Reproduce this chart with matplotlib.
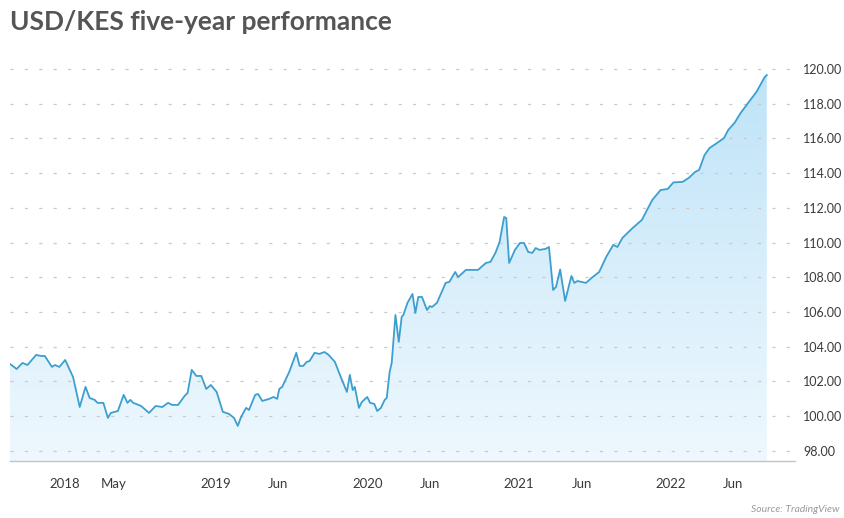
#!/usr/bin/env python3
"""USD/KES five-year performance - area chart with gradient fill"""

import numpy as np
import pandas as pd
import matplotlib
matplotlib.use('Agg')
import matplotlib.pyplot as plt
import matplotlib.dates as mdates
from matplotlib.colors import LinearSegmentedColormap

# Datos (fecha, USD/KES)
dates = [
    '2017-08-23', '2017-09-08', '2017-09-22', '2017-10-04', '2017-10-25', '2017-11-06',
    '2017-11-15', '2017-12-02', '2017-12-09', '2017-12-20',
    '2018-01-03', '2018-01-22', '2018-02-07', '2018-02-21', '2018-03-03', '2018-03-15',
    '2018-03-22', '2018-04-05', '2018-04-16', '2018-04-23', '2018-05-10', '2018-05-24',
    '2018-06-02', '2018-06-09', '2018-06-16', '2018-07-05', '2018-07-24', '2018-08-09',
    '2018-08-25', '2018-09-08', '2018-09-18', '2018-10-02', '2018-10-18', '2018-10-25',
    '2018-11-04', '2018-11-15', '2018-11-27', '2018-12-09', '2018-12-20',
    '2019-01-03', '2019-01-18', '2019-02-02', '2019-02-14', '2019-02-23', '2019-03-03',
    '2019-03-15', '2019-03-22', '2019-04-06', '2019-04-13', '2019-04-23', '2019-05-10',
    '2019-05-20', '2019-05-29', '2019-06-03', '2019-06-10', '2019-06-27', '2019-07-14',
    '2019-07-22', '2019-07-31', '2019-08-08', '2019-08-15', '2019-08-27', '2019-09-08',
    '2019-09-20', '2019-09-30', '2019-10-15', '2019-11-01', '2019-11-13', '2019-11-20',
    '2019-11-27', '2019-12-02', '2019-12-12', '2019-12-19',
    '2020-01-01', '2020-01-08', '2020-01-18', '2020-01-25', '2020-02-03', '2020-02-12',
    '2020-02-17', '2020-02-24', '2020-02-29', '2020-03-09', '2020-03-17', '2020-03-24',
    '2020-03-28', '2020-04-07', '2020-04-19', '2020-04-26', '2020-05-03', '2020-05-12',
    '2020-05-24', '2020-05-31', '2020-06-05', '2020-06-17', '2020-07-08', '2020-07-17',
    '2020-07-31', '2020-08-07', '2020-08-26', '2020-09-24', '2020-10-13', '2020-10-24',
    '2020-11-05', '2020-11-15', '2020-11-26', '2020-12-01', '2020-12-08', '2020-12-22',
    '2021-01-03', '2021-01-13', '2021-01-23', '2021-02-02', '2021-02-10', '2021-02-19',
    '2021-03-06', '2021-03-14', '2021-03-24', '2021-03-31', '2021-04-10', '2021-04-22',
    '2021-05-07', '2021-05-14', '2021-05-22', '2021-06-11', '2021-06-25', '2021-07-13',
    '2021-07-30', '2021-08-16', '2021-08-26', '2021-09-07', '2021-10-02', '2021-10-24',
    '2021-11-18', '2021-12-08', '2021-12-25',
    '2022-01-08', '2022-01-30', '2022-02-14', '2022-03-01', '2022-03-11', '2022-03-24',
    '2022-04-05', '2022-04-23', '2022-05-10', '2022-05-20', '2022-06-04', '2022-06-19',
    '2022-07-07', '2022-07-27', '2022-08-16', '2022-08-21',
]
rates = [
    103.01, 102.72, 103.07, 102.95, 103.53, 103.47,
    103.47, 102.84, 102.95, 102.84,
    103.24, 102.26, 100.53, 101.69, 101.05, 100.94,
    100.77, 100.77, 99.90, 100.19, 100.30, 101.23,
    100.77, 100.94, 100.77, 100.59, 100.19, 100.59,
    100.53, 100.77, 100.65, 100.65, 101.17, 101.34,
    102.67, 102.32, 102.32, 101.57, 101.80,
    101.40, 100.25, 100.13, 99.90, 99.44, 99.96,
    100.48, 100.36, 101.23, 101.28, 100.88, 101.00,
    101.11, 101.00, 101.57, 101.69, 102.55, 103.65,
    102.90, 102.90, 103.13, 103.18, 103.65, 103.59,
    103.70, 103.53, 103.13, 102.09, 101.40, 102.38,
    101.51, 101.69, 100.48, 100.82,
    101.11, 100.77, 100.71, 100.30, 100.48, 100.94,
    101.05, 102.55, 103.07, 105.83, 104.28, 105.72,
    105.83, 106.53, 107.04, 105.95, 106.87, 106.87,
    106.12, 106.35, 106.29, 106.53, 107.68, 107.74,
    108.31, 108.02, 108.43, 108.43, 108.83, 108.89,
    109.41, 110.04, 111.48, 111.42, 108.83, 109.58,
    109.98, 109.98, 109.46, 109.41, 109.69, 109.58,
    109.64, 109.75, 107.27, 107.45, 108.45, 106.64,
    108.08, 107.68, 107.79, 107.68, 107.97, 108.31,
    109.18, 109.87, 109.75, 110.27, 110.85, 111.31,
    112.46, 113.03, 113.09,
    113.47, 113.50, 113.73, 114.07, 114.19, 115.05,
    115.45, 115.74, 116.03, 116.49, 116.89, 117.47,
    118.05, 118.68, 119.54, 119.65,
]

tick_dates = ['2018-01-01', '2018-05-01', '2019-01-01', '2019-06-01', '2020-01-01',
              '2020-06-01', '2021-01-01', '2021-06-01', '2022-01-01', '2022-06-01']
tick_labels = ['2018', 'May', '2019', 'Jun', '2020', 'Jun', '2021', 'Jun', '2022', 'Jun']
y_ticks = [98, 100, 102, 104, 106, 108, 110, 112, 114, 116, 118, 120]

LINE = '#3d9fcf'
FONT = 'Lato'


def main():
    df = pd.DataFrame({'fecha': pd.to_datetime(dates), 'valor': rates})
    x = mdates.date2num(df['fecha'])
    y = df['valor'].values

    fig = plt.figure(figsize=(8.45, 5.18), dpi=100)
    ax = fig.add_axes([10 / 845, 57 / 518, 785 / 845, 401.5 / 518])

    ymin, ymax = 97.42, 120.55
    xmin = mdates.date2num(pd.Timestamp('2017-08-23'))
    xmax = mdates.date2num(pd.Timestamp('2022-10-28'))

    # Relleno con degradado vertical, recortado por el area bajo la curva
    cmap = LinearSegmentedColormap.from_list('kes', ['#eef8fe', '#d8eefb', '#bde3f8'])
    grad = np.linspace(0, 1, 256).reshape(-1, 1)
    img = ax.imshow(grad, cmap=cmap, origin='lower', aspect='auto',
                    extent=[x[0], x[-1], ymin, 120.0], zorder=1)
    poly = ax.fill_between(x, y, ymin, facecolor='none', edgecolor='none')
    clip = poly.get_paths()[0]
    img.set_clip_path(clip, transform=ax.transData)

    ax.plot(x, y, color=LINE, linewidth=1.3, zorder=3, solid_joinstyle='round')

    ax.set_xlim(xmin, xmax)
    ax.set_ylim(ymin, ymax)

    # Rejilla punteada
    for v in y_ticks:
        ax.axhline(v, color='#c9c9c9', linewidth=0.9, linestyle=(0, (2.5, 9)), zorder=2)

    for s in ['top', 'left', 'right']:
        ax.spines[s].set_visible(False)
    ax.spines['bottom'].set_color('#c4c4c4')
    ax.spines['bottom'].set_linewidth(1.0)

    ax.yaxis.tick_right()
    ax.set_yticks(y_ticks)
    ax.set_yticklabels([f'{v:.2f}' for v in y_ticks], fontsize=9, color='#3a3a3a',
                       family=FONT)
    ax.set_xticks(mdates.date2num(pd.to_datetime(tick_dates)))
    ax.set_xticklabels(tick_labels, fontsize=9.5, color='#3a3a3a', family=FONT)
    ax.tick_params(axis='both', length=0)
    ax.tick_params(axis='y', pad=6)
    ax.tick_params(axis='x', pad=12)

    fig.text(10 / 845, 1 - 22 / 518, 'USD/KES five-year performance', fontsize=19,
             fontweight='bold', color='#555555', family=FONT, va='center', ha='left')
    fig.text(840 / 845, 1 - 510 / 518, 'Source: TradingView', fontsize=7.5,
             style='italic', color='#9a9a9a', family=FONT, va='center', ha='right')

    fig.savefig('out.png', dpi=100)


if __name__ == "__main__":
    main()
